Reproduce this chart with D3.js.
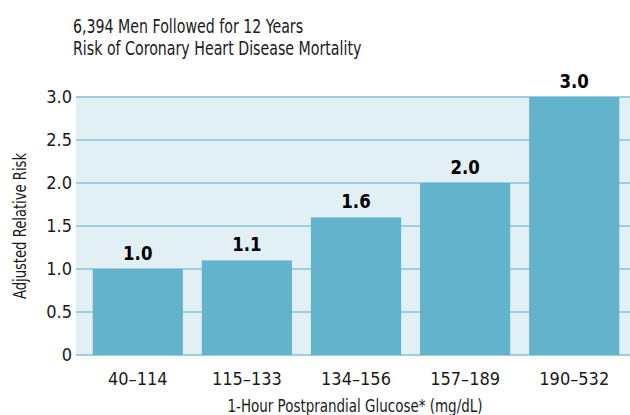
<!DOCTYPE html>
<html>
<head>
<meta charset="utf-8">
<script src="https://cdn.jsdelivr.net/npm/d3@7"></script>
<style>
  body { margin: 0; background: #fff; }
  text { font-family: "DejaVu Sans Condensed", "Liberation Sans Narrow", sans-serif; fill: #1a1a1a; }
</style>
</head>
<body>
<div id="chart"></div>
<script>
// data
const categories = ['40\u2013114', '115\u2013133', '134\u2013156', '157\u2013189', '190\u2013532'];
const riskValues = [1.0, 1.1, 1.6, 2.0, 3.0];
const yTicks = [0, 0.5, 1.0, 1.5, 2.0, 2.5, 3.0];
const titleLines = ['6,394 Men Followed for 12 Years', 'Risk of Coronary Heart Disease Mortality'];

const width = 630, height = 415;
const plotLeft = 76, plotTop = 97, plotBottom = 355;

// squeeze text a bit so it reads like the narrow face in the original
const condense = (sel, f) => sel.each(function() {
    const w = this.getComputedTextLength();
    d3.select(this).attr('textLength', w * f).attr('lengthAdjust', 'spacingAndGlyphs');
});

const svg = d3.select('#chart').append('svg')
    .attr('width', width)
    .attr('height', height);

const x = d3.scaleBand()
    .domain(categories)
    .range([plotLeft, 636])
    .paddingInner(0.174)
    .paddingOuter(0.153);

const y = d3.scaleLinear()
    .domain([0, 3])
    .range([plotBottom, plotTop]);

// plot background
svg.append('rect')
    .attr('x', plotLeft)
    .attr('y', plotTop)
    .attr('width', width - plotLeft)
    .attr('height', plotBottom - plotTop)
    .attr('fill', '#e2eff4');

// gridlines
svg.append('g').selectAll('line')
    .data(yTicks)
    .enter().append('line')
    .attr('x1', plotLeft)
    .attr('x2', width)
    .attr('y1', d => y(d))
    .attr('y2', d => y(d))
    .attr('stroke', '#9dcfdd')
    .attr('stroke-width', 2);

// y tick labels
svg.append('g').selectAll('text')
    .data(yTicks)
    .enter().append('text')
    .attr('x', plotLeft - 4)
    .attr('y', d => y(d) + 6)
    .attr('text-anchor', 'end')
    .style('font-size', '18px')
    .text(d => d === 0 ? '0' : d.toFixed(1));

// bars
svg.append('g').selectAll('rect')
    .data(riskValues)
    .enter().append('rect')
    .attr('x', (d, i) => x(categories[i]))
    .attr('y', d => y(d))
    .attr('width', x.bandwidth())
    .attr('height', d => y(0) - y(d))
    .attr('fill', '#62b3cb');

// value labels
svg.append('g').selectAll('text')
    .data(riskValues)
    .enter().append('text')
    .attr('x', (d, i) => x(categories[i]) + x.bandwidth() / 2)
    .attr('y', d => y(d) - 9)
    .attr('text-anchor', 'middle')
    .style('font-size', '20px')
    .style('font-weight', 'bold')
    .style('fill', '#000')
    .text(d => d.toFixed(1))
    .call(condense, 0.92);

// x tick labels
svg.append('g').selectAll('text')
    .data(categories)
    .enter().append('text')
    .attr('x', d => x(d) + x.bandwidth() / 2)
    .attr('y', 385)
    .attr('text-anchor', 'middle')
    .style('font-size', '18px')
    .text(d => d);

// axis titles
svg.append('text')
    .attr('x', 355)
    .attr('y', 412)
    .attr('text-anchor', 'middle')
    .style('font-size', '17px')
    .text('1-Hour Postprandial Glucose* (mg/dL)')
    .call(condense, 0.88);

svg.append('text')
    .attr('transform', 'translate(26,226) rotate(-90)')
    .attr('text-anchor', 'middle')
    .style('font-size', '17px')
    .text('Adjusted Relative Risk')
    .call(condense, 0.86);

// title
svg.append('g').selectAll('text')
    .data(titleLines)
    .enter().append('text')
    .attr('x', 73)
    .attr('y', (d, i) => 33 + i * 22)
    .style('font-size', '19px')
    .text(d => d)
    .call(condense, 0.83);
</script>
</body>
</html>
